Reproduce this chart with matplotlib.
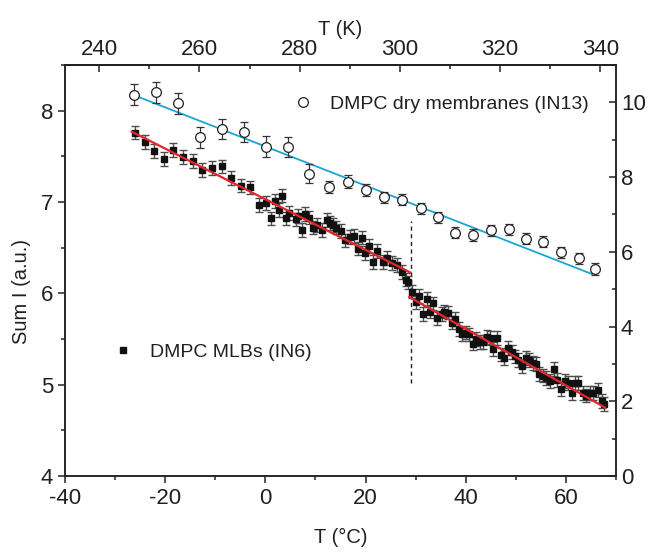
import matplotlib
matplotlib.use("Agg")
import matplotlib.pyplot as plt
from matplotlib.lines import Line2D
from matplotlib.ticker import MultipleLocator, FixedLocator
import numpy as np

plt.rcParams['font.family'] = ['Liberation Sans', 'DejaVu Sans']
plt.rcParams['text.color'] = '#231f20'
plt.rcParams['axes.labelcolor'] = '#231f20'

# IN6 (squares), left axis
sq_T = [-25.96, -24.03, -22.17, -20.24, -18.38, -16.39, -14.51, -12.59, -10.66, -8.66,
        -6.79, -4.93, -3.07, -1.22, 0.12, 1.12, 1.92, 2.78, 3.38, 4.05,
        4.71, 6.05, 6.51, 7.31, 8.0, 8.7, 9.6, 10.4, 11.3, 12.24,
        12.9, 13.57, 14.2, 15.0, 15.95, 16.9, 17.7, 18.5, 19.2, 19.95,
        20.76, 21.54, 22.2, 23.45, 24.3, 25.3, 26.25, 27.2, 28.06, 28.55,
        29.35, 30.0, 30.73, 31.52, 32.2, 32.85, 33.52, 34.2, 35.19, 35.65,
        36.51, 37.19, 37.84, 38.64, 39.3, 39.98, 40.64, 41.38, 42.04, 42.84,
        43.5, 44.17, 44.83, 45.49, 46.29, 46.97, 47.63, 48.49, 49.16, 49.82,
        50.48, 51.16, 51.96, 52.67, 53.35, 54.01, 54.67, 55.35, 56.01, 56.81,
        57.6, 58.26, 58.94, 59.8, 60.46, 61.14, 61.8, 62.46, 63.33, 63.99,
        64.79, 65.45, 66.33, 67.12, 67.58]
sq_I = [7.76, 7.66, 7.56, 7.47, 7.57, 7.49, 7.45, 7.35, 7.37, 7.39,
        7.26, 7.18, 7.16, 6.97, 6.99, 6.82, 7.01, 6.91, 7.07, 6.82,
        6.88, 6.81, 6.85, 6.69, 6.87, 6.83, 6.72, 6.75, 6.69, 6.80,
        6.77, 6.75, 6.72, 6.68, 6.58, 6.62, 6.63, 6.49, 6.61, 6.44,
        6.52, 6.34, 6.46, 6.34, 6.39, 6.33, 6.31, 6.23, 6.15, 6.12,
        6.02, 5.90, 5.97, 5.77, 5.94, 5.80, 5.89, 5.73, 5.77, 5.80,
        5.79, 5.68, 5.72, 5.61, 5.55, 5.57, 5.55, 5.45, 5.50, 5.47,
        5.47, 5.52, 5.51, 5.39, 5.51, 5.33, 5.29, 5.40, 5.36, 5.31,
        5.27, 5.20, 5.29, 5.27, 5.24, 5.23, 5.12, 5.10, 5.07, 5.04,
        5.17, 5.05, 4.95, 5.04, 5.02, 4.91, 5.02, 5.02, 4.91, 4.88,
        4.91, 4.91, 4.94, 4.82, 4.79]
sq_err = 0.075

# IN13 (open circles), right axis
ci_T = [-26.2, -21.8, -17.4, -13.05, -8.66, -4.33, 0.12, 4.5, 8.8, 12.8,
        16.4, 20.1, 23.7, 27.3, 31.0, 34.4, 37.9, 41.5, 45.0, 48.6,
        52.0, 55.5, 59.1, 62.6, 65.8]
ci_I = [10.20, 10.27, 9.97, 9.06, 9.28, 9.20, 8.81, 8.80, 8.09, 7.74,
        7.88, 7.65, 7.46, 7.39, 7.16, 6.92, 6.51, 6.45, 6.58, 6.60,
        6.35, 6.27, 5.99, 5.83, 5.53]
ci_err = [0.28, 0.28, 0.28, 0.27, 0.27, 0.27, 0.28, 0.27, 0.26, 0.16,
          0.17, 0.16, 0.15, 0.15, 0.15, 0.15, 0.15, 0.15, 0.15, 0.15,
          0.15, 0.15, 0.15, 0.15, 0.16]

# linear fits
fit1_T = [-26.7, 28.86]
fit1_I = [7.77, 6.23]
fit2_T = [28.72, 67.8]
fit2_I = [5.96, 4.75]
fitc_T = [-25.8, 65.3]
fitc_I = [10.17, 5.40]
T_trans = 29.0
trans_range = [5.02, 6.79]

kelvin_ticks = [240, 260, 280, 300, 320, 340]

fig = plt.figure(figsize=(6.52, 5.54), dpi=100)
ax = fig.add_axes([65/652, 78/554, 551/652, 411/554])
ax2 = ax.twinx()

red = '#e4262b'
blue = '#17a6d6'

ax.errorbar(sq_T, sq_I, yerr=sq_err, fmt='s', ms=4.3, mfc='#111111', mec='#111111',
            ecolor='0.3', elinewidth=1.0, capsize=2.6, capthick=1.0, zorder=3)
ax.plot(fit1_T, fit1_I, color=red, lw=1.6, zorder=4)
ax.plot(fit2_T, fit2_I, color=red, lw=1.6, zorder=4)
ax.vlines(T_trans, trans_range[0], trans_range[1], colors='#222222',
          linestyles=(0, (3, 2.5)), lw=1.0)

ax2.errorbar(ci_T, ci_I, yerr=ci_err, fmt='o', ms=7, mfc='white', mec='#222222',
             mew=0.9, ecolor='#333333', elinewidth=0.9, capsize=3, capthick=0.9, zorder=3)
ax2.plot(fitc_T, fitc_I, color=blue, lw=1.3, zorder=2)

ax.set_xlim(-40, 70)
ax.set_ylim(4, 8.5)
ax2.set_ylim(0, 11)

ax.xaxis.set_major_locator(MultipleLocator(20))
ax.xaxis.set_minor_locator(MultipleLocator(10))
ax.yaxis.set_major_locator(MultipleLocator(1))
ax.yaxis.set_minor_locator(MultipleLocator(0.5))
ax2.yaxis.set_major_locator(MultipleLocator(2))
ax2.yaxis.set_minor_locator(MultipleLocator(1))

top = ax.secondary_xaxis('top', functions=(lambda c: c + 273.15, lambda k: k - 273.15))
top.xaxis.set_major_locator(FixedLocator(kelvin_ticks))
top.xaxis.set_minor_locator(FixedLocator([250, 270, 290, 310, 330]))

for a in (ax, ax2):
    for s in a.spines.values():
        s.set_linewidth(1.1)
        s.set_color('#222222')

ax.tick_params(axis='both', which='major', direction='out', length=5, width=1.1,
               labelsize=16, colors='#222222', labelcolor='#231f20')
ax.tick_params(axis='both', which='minor', direction='out', length=3, width=1.1, colors='#222222')
ax2.tick_params(axis='y', which='major', direction='in', length=5, width=1.1,
                labelsize=16, colors='#222222', labelcolor='#231f20')
ax2.tick_params(axis='y', which='minor', direction='in', length=3, width=1.1, colors='#222222')
top.tick_params(axis='x', which='major', direction='in', length=5, width=1.1,
                labelsize=16, colors='#222222', labelcolor='#231f20')
top.tick_params(axis='x', which='minor', direction='in', length=3, width=1.1, colors='#222222')
top.spines['top'].set_linewidth(1.1)

ax.set_xticklabels([f'{int(t)}' for t in ax.get_xticks()])
ax.set_xlabel('T (°C)', fontsize=14.5, labelpad=14)
ax.set_ylabel('Sum I (a.u.)', fontsize=14.5, labelpad=8)
ax.yaxis.set_label_coords(-0.062, 0.45)
top.set_xlabel('T (K)', fontsize=14.5, labelpad=3)

h_ci = Line2D([], [], ls='none', marker='o', ms=7, mfc='white', mec='#222222', mew=0.9)
h_sq = Line2D([], [], ls='none', marker='s', ms=4.3, mfc='#111111', mec='#111111')
leg1 = ax2.legend([h_ci], ['DMPC dry membranes (IN13)'], loc='center left',
                  bbox_to_anchor=(0.4134, 0.905), frameon=False, fontsize=14,
                  handlelength=1.0, handletextpad=0.9, borderpad=0, borderaxespad=0)
leg2 = ax.legend([h_sq], ['DMPC MLBs (IN6)'], loc='center left',
                 bbox_to_anchor=(0.0871, 0.302), frameon=False, fontsize=14,
                 handlelength=1.0, handletextpad=0.9, borderpad=0, borderaxespad=0)

fig.savefig('out.png', dpi=100)
